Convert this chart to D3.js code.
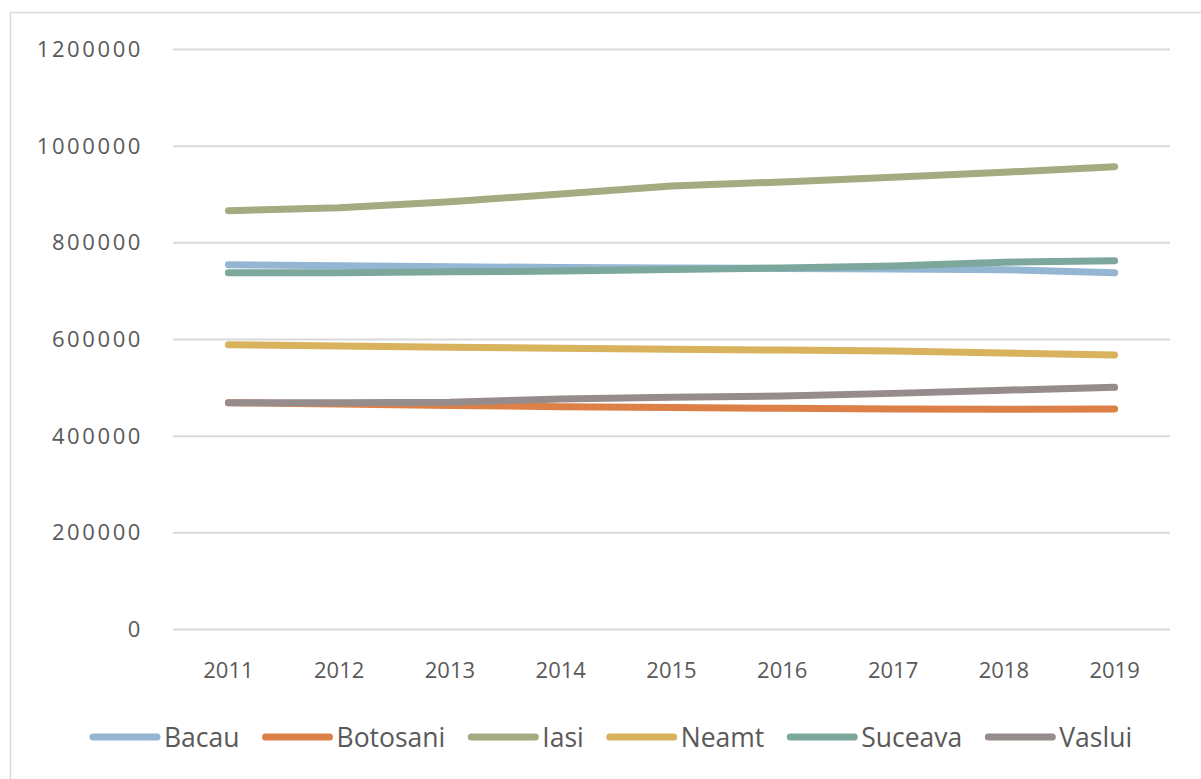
<!DOCTYPE html>
<html>
<head>
<meta charset="utf-8">
<script src="https://cdn.jsdelivr.net/npm/d3@7"></script>
<style>
  body { margin: 0; background: #fff; }
  text { font-family: "Open Sans", sans-serif; fill: #595959; }
</style>
</head>
<body>
<div id="chart"></div>
<script>
// data
var years = ["2011", "2012", "2013", "2014", "2015", "2016", "2017", "2018", "2019"];
var yTicks = [0, 200000, 400000, 600000, 800000, 1000000, 1200000];
var counties = ["Bacau", "Botosani", "Iasi", "Neamt", "Suceava", "Vaslui"];
var colors = ["#94b6d2", "#dd8047", "#a5ab81", "#d8b25c", "#7ba79d", "#968c8c"];

var bacau    = [753500, 751500, 749500, 748000, 747000, 746000, 745000, 743500, 737000];
var botosani = [468000, 465500, 462500, 460000, 458500, 456500, 455000, 454500, 455000];
var iasi     = [865500, 871500, 884000, 900000, 916500, 925000, 934500, 945000, 956500];
var neamt    = [588000, 585500, 583000, 581000, 579000, 577000, 575000, 571000, 567000];
var suceava  = [737000, 737000, 739000, 740500, 744000, 747000, 751000, 759000, 762000];
var vaslui   = [468000, 468000, 469000, 476000, 479500, 482000, 487500, 494000, 500000];

var series = [bacau, botosani, iasi, neamt, suceava, vaslui];

// dimensions
var W = 1201, H = 779;
var margin = {top: 49, right: 31, bottom: 150, left: 173},
    width = W - margin.left - margin.right,
    height = H - margin.top - margin.bottom;

var root = d3.select("#chart")
  .append("svg")
    .attr("width", W)
    .attr("height", H);

// outer chart frame
root.append("rect")
  .attr("x", 10.5)
  .attr("y", 12.5)
  .attr("width", W + 20)
  .attr("height", H + 20)
  .attr("fill", "none")
  .attr("stroke", "#d9d9d9")
  .attr("stroke-width", 1.5);

var svg = root.append("g")
  .attr("transform", "translate(" + margin.left + "," + margin.top + ")");

var x = d3.scaleBand()
  .domain(years)
  .range([0, width]);

var y = d3.scaleLinear()
  .domain([0, 1200000])
  .range([height, 0]);

// gridlines + y labels
var yAxis = svg.append("g")
  .call(d3.axisLeft(y).tickValues(yTicks).tickSize(-width).tickPadding(30).tickFormat(d3.format("d")));
yAxis.select(".domain").remove();
yAxis.selectAll(".tick line")
  .attr("stroke", "#d9d9d9")
  .attr("stroke-width", 2);
yAxis.selectAll(".tick text")
  .attr("font-size", 22)
  .attr("letter-spacing", 2.6)
  .attr("dy", "0.34em")
  .style("font-family", "'Open Sans', sans-serif")
  .attr("fill", "#595959");

// x labels
var xAxis = svg.append("g")
  .attr("transform", "translate(0," + height + ")")
  .call(d3.axisBottom(x).tickSize(0).tickPadding(33));
xAxis.select(".domain").remove();
xAxis.selectAll(".tick text")
  .attr("font-size", 22)
  .style("font-family", "'Open Sans', sans-serif")
  .attr("fill", "#595959");

// lines
var line = d3.line()
  .x(function(d, i) { return x(years[i]) + x.bandwidth() / 2; })
  .y(function(d) { return y(d); });

svg.selectAll(".series")
  .data(series)
  .enter()
  .append("path")
    .attr("class", "series")
    .attr("d", line)
    .attr("fill", "none")
    .attr("stroke", function(d, i) { return colors[i]; })
    .attr("stroke-width", 7)
    .attr("stroke-linecap", "round")
    .attr("stroke-linejoin", "round");

// legend
var legend = root.append("g").attr("transform", "translate(0,737)");
var lx = 93;
counties.forEach(function(name, i) {
  legend.append("line")
    .attr("x1", lx).attr("x2", lx + 64)
    .attr("y1", 0).attr("y2", 0)
    .attr("stroke", colors[i])
    .attr("stroke-width", 7)
    .attr("stroke-linecap", "round");
  var t = legend.append("text")
    .attr("x", lx + 71)
    .attr("y", 9.5)
    .attr("font-size", 26.5)
    .text(name);
  lx += 71 + t.node().getComputedTextLength() + 26;
});
</script>
</body>
</html>
